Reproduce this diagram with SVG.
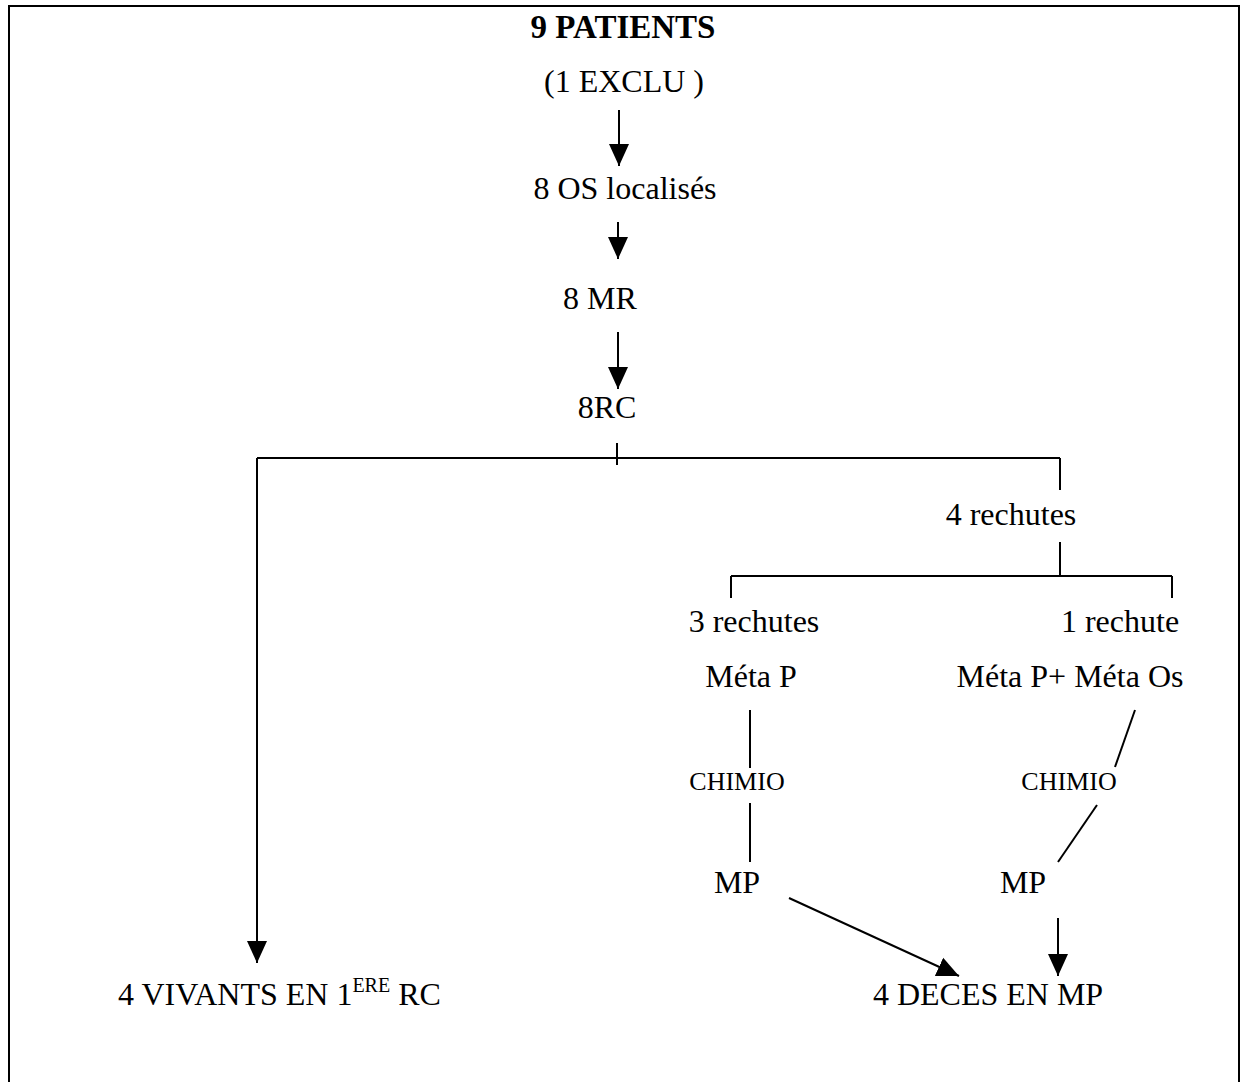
<svg xmlns="http://www.w3.org/2000/svg" width="1249" height="1082" viewBox="0 0 1249 1082">
<style>
text{font-family:"Liberation Serif","Times New Roman",serif;font-size:32px;fill:#000}
.b{font-weight:bold;font-size:33px}
.s{font-size:26px}
.sup{font-size:20px}
.ln{stroke:#000;stroke-width:2;fill:none}
</style>
<defs>
<marker id="ah" markerUnits="userSpaceOnUse" markerWidth="24" markerHeight="24" viewBox="0 0 24 24" refX="22" refY="12" orient="auto">
<path d="M0,2 L22,12 L0,22 Z" fill="#000"/>
</marker>
</defs>
<rect x="0" y="0" width="1249" height="1082" fill="#fff"/>
<path class="ln" d="M9,1082 V6 H1239 V1082"/>
<g id="connectors">
<line class="ln" x1="619" y1="110" x2="619" y2="166" marker-end="url(#ah)"/>
<line class="ln" x1="618" y1="222" x2="618" y2="259" marker-end="url(#ah)"/>
<line class="ln" x1="618" y1="332" x2="618" y2="389" marker-end="url(#ah)"/>
<line class="ln" x1="617" y1="443" x2="617" y2="465"/>
<line class="ln" x1="257" y1="458" x2="1060" y2="458"/>
<line class="ln" x1="257" y1="458" x2="257" y2="963" marker-end="url(#ah)"/>
<line class="ln" x1="1060" y1="458" x2="1060" y2="490"/>
<line class="ln" x1="1060" y1="542" x2="1060" y2="576"/>
<line class="ln" x1="731" y1="576" x2="1172" y2="576"/>
<line class="ln" x1="731" y1="576" x2="731" y2="598"/>
<line class="ln" x1="1172" y1="576" x2="1172" y2="598"/>
<line class="ln" x1="750" y1="710" x2="750" y2="768"/>
<line class="ln" x1="750" y1="803" x2="750" y2="862"/>
<line class="ln" x1="1135" y1="710" x2="1115" y2="767"/>
<line class="ln" x1="1097" y1="805" x2="1058" y2="862"/>
<line class="ln" x1="789" y1="898" x2="959" y2="976" marker-end="url(#ah)"/>
<line class="ln" x1="1058" y1="918" x2="1058" y2="976" marker-end="url(#ah)"/>
</g>
<g id="n-patients"><text class="b" x="623" y="38" text-anchor="middle">9 PATIENTS</text></g>
<g id="n-exclu"><text x="624" y="92" text-anchor="middle">(1 EXCLU )</text></g>
<g id="n-os"><text x="625" y="199" text-anchor="middle">8 OS localisés</text></g>
<g id="n-mr"><text x="600" y="309" text-anchor="middle">8 MR</text></g>
<g id="n-rc"><text x="607" y="418" text-anchor="middle">8RC</text></g>
<g id="n-4rechutes"><text x="1011" y="525" text-anchor="middle">4 rechutes</text></g>
<g id="n-3rechutes"><text x="754" y="632" text-anchor="middle">3 rechutes</text></g>
<g id="n-1rechute"><text x="1120" y="632" text-anchor="middle">1 rechute</text></g>
<g id="n-metap"><text x="751" y="687" text-anchor="middle">Méta P</text></g>
<g id="n-metapos"><text x="1070" y="687" text-anchor="middle">Méta P+ Méta Os</text></g>
<g id="n-chimio1"><text class="s" x="737" y="790" text-anchor="middle">CHIMIO</text></g>
<g id="n-chimio2"><text class="s" x="1069" y="790" text-anchor="middle">CHIMIO</text></g>
<g id="n-mp1"><text x="737" y="893" text-anchor="middle">MP</text></g>
<g id="n-mp2"><text x="1023" y="893" text-anchor="middle">MP</text></g>
<g id="n-vivants"><text x="118" y="1005">4 VIVANTS EN 1<tspan class="sup" dy="-13">ERE</tspan><tspan dy="13"> RC</tspan></text></g>
<g id="n-deces"><text x="988" y="1005" text-anchor="middle">4 DECES EN MP</text></g>
</svg>
